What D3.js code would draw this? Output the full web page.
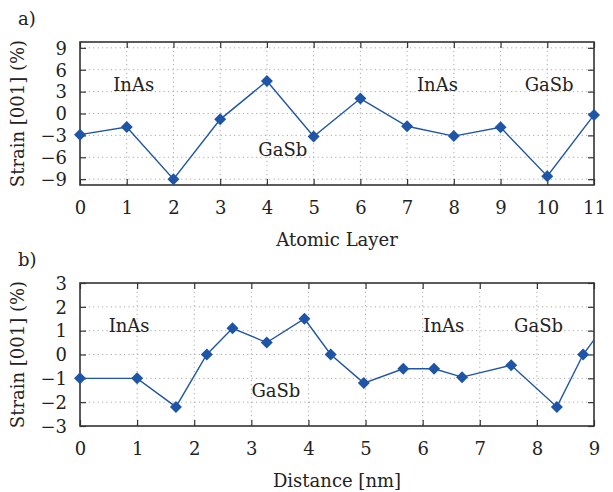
<!DOCTYPE html>
<html>
<head>
<meta charset="utf-8">
<script src="https://cdn.jsdelivr.net/npm/d3@7"></script>
<style>
body { margin: 0; background: #fff; }
svg { font-family: "DejaVu Serif", serif; }
.tick text { fill: #222; }
</style>
</head>
<body>
<svg id="chart" width="613" height="492"></svg>
<script>
// panel a: strain per atomic layer
var layersA = [0, 1, 2, 3, 4, 5, 6, 7, 8, 9, 10, 11];
var strainA = [-2.9, -1.85, -9.0, -0.8, 4.45, -3.15, 2.05, -1.75, -3.1, -1.9, -8.6, -0.2];
var ticksXA = [0, 1, 2, 3, 4, 5, 6, 7, 8, 9, 10, 11];
var ticksYA = [-9, -6, -3, 0, 3, 6, 9];

// panel b: strain vs distance
var distB = [0, 1.0, 1.68, 2.22, 2.67, 3.27, 3.93, 4.39, 4.97, 5.66, 6.2, 6.69, 7.55, 8.35, 8.81, 9.15];
var strainB = [-1.0, -1.0, -2.2, 0.0, 1.1, 0.5, 1.5, 0.0, -1.2, -0.6, -0.6, -0.95, -0.45, -2.2, 0.0, 1.1];
var ticksXB = [0, 1, 2, 3, 4, 5, 6, 7, 8, 9];
var ticksYB = [-3, -2, -1, 0, 1, 2, 3];

var labelsA = [
    {t: "InAs", x: 1.15, y: 3.9}, {t: "GaSb", x: 4.34, y: -5.0},
    {t: "InAs", x: 7.65, y: 3.9}, {t: "GaSb", x: 10.04, y: 3.9}
];
var labelsB = [
    {t: "InAs", x: 0.86, y: 1.19}, {t: "GaSb", x: 3.43, y: -1.53},
    {t: "InAs", x: 6.37, y: 1.19}, {t: "GaSb", x: 8.03, y: 1.19}
];

var svg = d3.select("#chart");
var color = "#1f55a6";
var FS = 18;

function panel(cfg) {
    var w = 514, h = 143;
    var g = svg.append("g").attr("transform", "translate(" + cfg.left + "," + cfg.top + ")");
    var x = d3.scaleLinear().domain(cfg.xd).range([0, w]);
    var y = d3.scaleLinear().domain(cfg.yd).range([h, 0]);

    // grid
    g.append("g").selectAll("line").data(cfg.tx.slice(1, -1)).enter().append("line")
        .attr("x1", d => x(d)).attr("x2", d => x(d)).attr("y1", 0).attr("y2", h)
        .attr("stroke", "#aaa").attr("stroke-dasharray", "1.2,3.2");
    g.append("g").selectAll("line").data(cfg.ty.filter(d => y(d) > 1 && y(d) < h - 1)).enter().append("line")
        .attr("y1", d => y(d)).attr("y2", d => y(d)).attr("x1", 0).attr("x2", w)
        .attr("stroke", "#aaa").attr("stroke-dasharray", "1.2,3.2");

    // axes with inward ticks
    var ax = g.append("g").attr("transform", "translate(0," + h + ")")
        .call(d3.axisBottom(x).tickValues(cfg.tx).tickSize(-6).tickPadding(16).tickFormat(d3.format("d")));
    var ay = g.append("g")
        .call(d3.axisLeft(y).tickValues(cfg.ty).tickSize(-6).tickPadding(13).tickFormat(d3.format("d")));
    var ax2 = g.append("g").call(d3.axisTop(x).tickValues(cfg.tx).tickSize(-6).tickFormat(""));
    var ay2 = g.append("g").attr("transform", "translate(" + w + ",0)")
        .call(d3.axisRight(y).tickValues(cfg.ty).tickSize(-6).tickFormat(""));
    [ax, ay, ax2, ay2].forEach(function(a) {
        a.select(".domain").remove();
        a.selectAll("line").attr("stroke", "#333").attr("stroke-width", 1.2);
        a.selectAll("text").attr("font-size", FS).attr("font-family", "DejaVu Serif");
    });
    ay.selectAll("text").attr("dy", "0.35em");

    g.append("rect").attr("width", w).attr("height", h)
        .attr("fill", "none").attr("stroke", "#333").attr("stroke-width", 1.6);

    // region labels
    g.selectAll(".lbl").data(cfg.labels).enter().append("text")
        .attr("x", d => x(d.x)).attr("y", d => y(d.y)).attr("dy", "0.35em")
        .attr("text-anchor", "middle").attr("font-size", FS).attr("fill", "#222")
        .text(d => d.t);

    // data
    var clipId = "clip" + cfg.id;
    g.append("clipPath").attr("id", clipId).append("rect").attr("x", -8).attr("y", -4).attr("width", w + 8).attr("height", h + 8);
    var pts = cfg.xs.map((d, i) => [d, cfg.ys[i]]);
    var dg = g.append("g").attr("clip-path", "url(#" + clipId + ")");
    dg.append("path").datum(pts)
        .attr("fill", "none").attr("stroke", color).attr("stroke-width", 1.4)
        .attr("d", d3.line().x(d => x(d[0])).y(d => y(d[1])));
    var dclip = "dclip" + cfg.id;
    g.append("clipPath").attr("id", dclip).append("rect").attr("x", -10).attr("y", -10).attr("width", w + 10 + cfg.markRight).attr("height", h + 20);
    g.append("g").attr("clip-path", "url(#" + dclip + ")")
        .selectAll("path").data(pts).enter().append("path")
        .attr("d", d3.symbol(d3.symbolSquare, 72))
        .attr("transform", d => "translate(" + x(d[0]) + "," + y(d[1]) + ") rotate(45)")
        .attr("fill", color);

    // axis titles
    g.append("text").attr("x", w / 2).attr("y", h + 61).attr("text-anchor", "middle")
        .attr("font-size", FS).attr("fill", "#222").text(cfg.xlabel);
    g.append("text").attr("transform", "translate(" + (-56) + "," + (h / 2) + ") rotate(-90)")
        .attr("text-anchor", "middle").attr("font-size", FS).attr("fill", "#222")
        .text("Strain [001] (%)");
    svg.append("text").attr("x", 18).attr("y", cfg.top - 17).attr("font-size", FS).attr("fill", "#222").text(cfg.tag);
}

panel({id: "a", left: 80, top: 42, xd: [0, 11], yd: [-9.8, 9.8], tx: ticksXA, ty: ticksYA,
       xs: layersA, ys: strainA, labels: labelsA, xlabel: "Atomic Layer", tag: "a)", markRight: 10});
panel({id: "b", left: 80, top: 283, xd: [0, 9], yd: [-3, 3], tx: ticksXB, ty: ticksYB,
       xs: distB, ys: strainB, labels: labelsB, xlabel: "Distance [nm]", tag: "b)", markRight: 0});
</script>
</body>
</html>
